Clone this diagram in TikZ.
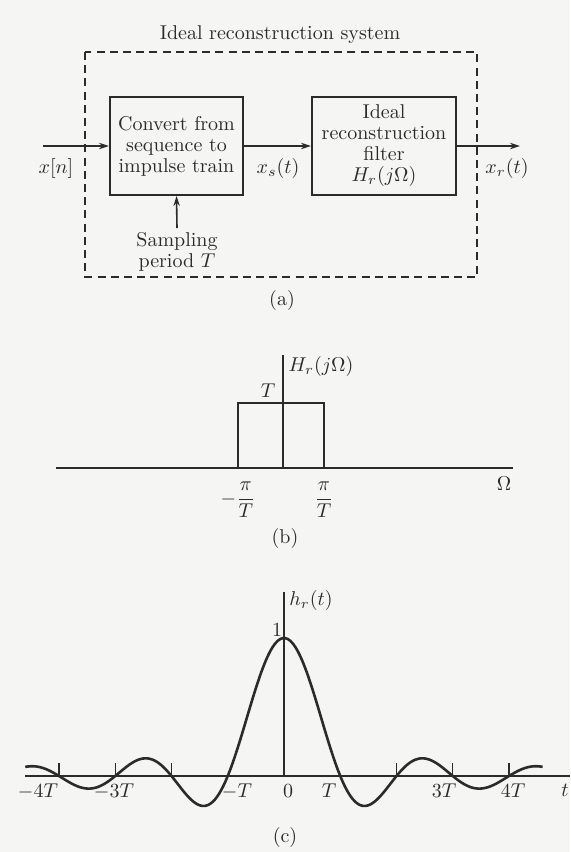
\documentclass[tikz,border=0pt]{standalone}
\usepackage{amsmath,amssymb}
\usepackage{xcolor}
\usepackage{tikz}
\usetikzlibrary{arrows.meta,positioning,calc}
\definecolor{paper}{HTML}{F5F5F3}
\definecolor{ink}{HTML}{2B2B2B}

\begin{document}
\begin{tikzpicture}[x=0.5pt, y=-0.5pt, >={Stealth[length=5pt,width=3.2pt]},
  block/.style={draw=ink, line width=1pt, minimum height=49pt, align=center, inner sep=0pt, font=\fontsize{10}{10.5}\selectfont, text=ink},
  sig/.style={->, line width=0.8pt, draw=ink},
  lbl/.style={font=\fontsize{10}{10.5}\selectfont, text=ink, inner sep=1pt},
  axis/.style={draw=ink, line width=0.6pt},
  declare function={hr(\t)=sin(180*\t)/(pi*\t);}]
\fill[paper] (0,0) rectangle (570,852);
\useasboundingbox (0,0) rectangle (570,852);
% (a) block diagram
\node[lbl] (ttl) at (280,35) {Ideal reconstruction system};
\draw[ink, line width=0.6pt, dash pattern=on 4pt off 2.6pt] (85,52) rectangle (477,277);
\node[block, minimum width=66.5pt] (conv) at (176.5,146) {Convert from\\ sequence to\\ impulse train};
\node[block, minimum width=72pt] (filt) at (384,146) {Ideal\\ reconstruction\\ filter\\ $H_r(j\Omega)$};
\coordinate (in) at (43,146); \coordinate (out) at (520,146);
\draw[sig] (in) -- (conv);
\draw[sig] (conv) -- (filt);
\draw[sig] (filt) -- (out);
\node[lbl] (xn) at (56,168) {$x[n]$};
\node[lbl] (xs) at (278,168) {$x_s(t)$};
\node[lbl] (xr) at (507,168) {$x_r(t)$};
\node[lbl, align=center] (samp) at (177,252) {Sampling\\ period $T$};
\coordinate (sampin) at (177,228);
\draw[sig] (sampin) -- (conv.south);
\node[lbl] (capa) at (282,300) {(a)};
% (b) frequency response
\coordinate (b0) at (283,468);
\draw[axis] (56,468) -- (513,468);
\draw[axis] (b0) -- (283,355);
\draw[ink, line width=1pt] (238,468) -- (238,403) -- (324,403) -- (324,468);
\node[lbl] (hjw) at (321,366) {$H_r(j\Omega)$};
\node[lbl] (tlev) at (268,391) {$T$};
\node[lbl] (wl) at (238,500) {$-\dfrac{\pi}{T}$};
\node[lbl] (wr) at (324,500) {$\dfrac{\pi}{T}$};
\node[lbl] (om) at (504,484) {$\Omega$};
\node[lbl] (capb) at (285,538) {(b)};
% (c) impulse response
\coordinate (c0) at (284,776);
\draw[axis] (25,776) -- (570,776);
\draw[axis] (c0) -- (284,592);
\foreach \k in {-4,-3,-2,2,3,4}
  \draw[axis] ({284+56.25*\k},776) -- ({284+56.25*\k},763);
\draw[ink, line width=1.3pt, smooth] plot[domain=-4.6:4.6, samples=200] ({284+56.25*\x},{776-138*hr(\x)});
\node[lbl] (ht) at (311,600) {$h_r(t)$};
\node[lbl] (one) at (277,630) {1};
\node[lbl] (m4) at (38,791) {$-4T$};
\node[lbl] (m3) at (114,791) {$-3T$};
\node[lbl] (m1) at (237,791) {$-T$};
\node[lbl] (z0) at (288,791) {0};
\node[lbl] (p1) at (329,791) {$T$};
\node[lbl] (p3) at (444,791) {$3T$};
\node[lbl] (p4) at (513,791) {$4T$};
\node[lbl] (tt) at (565,790) {$t$};
\node[lbl] (capc) at (285,837) {(c)};
\end{tikzpicture}
\end{document}
